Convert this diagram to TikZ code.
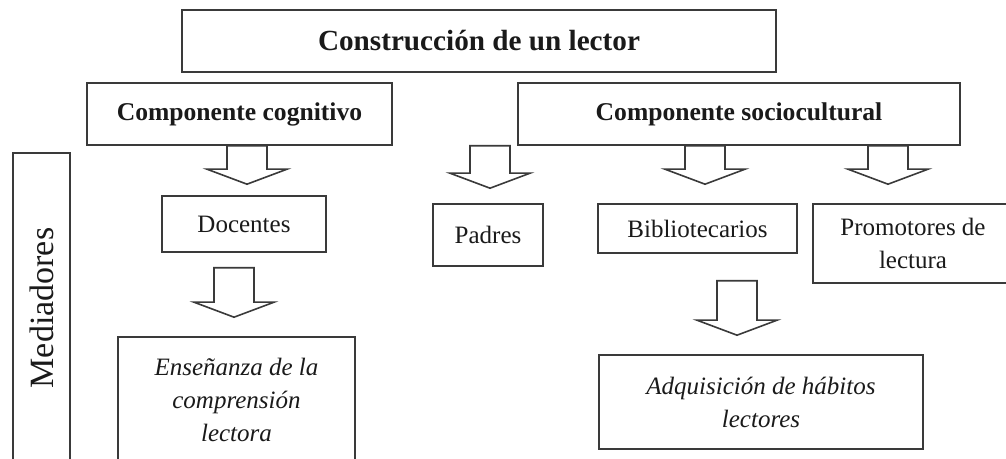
\documentclass[tikz,border=0pt]{standalone}
\usepackage{fontspec}
\setmainfont{Liberation Serif}
\usetikzlibrary{calc}

\definecolor{linea}{HTML}{3A3A3A}
\definecolor{texto}{HTML}{1A1A1A}

% flecha hueca: eje x, arranque, punta
\newcommand{\flecha}[3]{%
	\draw[flecha] let \p1 = (#1,0), \p2 = (#2), \p3 = (#3) in (\x1-10pt,\y2)--(\x1-10pt,\y3+7.5pt)--(\x1-20pt,\y3+7.5pt)--(\x1,\y3)--(\x1+20pt,\y3+7.5pt)--(\x1+10pt,\y3+7.5pt)--(\x1+10pt,\y2)--cycle;}

\begin{document}
\begin{tikzpicture}[x=0.5pt,y=-0.5pt,
	caja/.style={draw=linea, line width=0.8pt, text=texto, inner sep=2pt, align=center, font=\fontsize{12.5}{16.5}\selectfont},
	cajanegrita/.style={caja, font=\fontsize{12.8}{15}\selectfont\bfseries},
	flecha/.style={draw=linea, line width=0.8pt, fill=white, line join=miter}]
	\path[use as bounding box, fill=white] (0,0) rectangle (1006,459);
	
	\node[caja, font=\fontsize{14.6}{17}\selectfont\bfseries, minimum width=297pt, minimum height=31pt] (titulo) at (479,41) {Construcción de un lector};
	\node[cajanegrita, minimum width=152.5pt, minimum height=31pt] (cog) at (239.5,114) {Componente cognitivo};
	\node[cajanegrita, minimum width=221pt, minimum height=31pt] (soc) at (739,114) {Componente sociocultural};
	\node[caja, font=\fontsize{17}{20}\selectfont, rotate=90, minimum width=155pt, minimum height=28.5pt] (med) at (41.5,308) {Mediadores};
	
	\node[caja, minimum width=82pt, minimum height=28pt] (doc) at (244,224) {Docentes};
	\node[caja, minimum width=55pt, minimum height=31pt] (pad) at (488,235) {Padres};
	\node[caja, minimum width=99.5pt, minimum height=24.5pt] (bib) at (697.5,228.5) {Bibliotecarios};
	\node[caja, minimum width=100pt, minimum height=39.5pt] (prom) at (913,243.5) {Promotores de\\lectura};
	
	\node[caja, minimum width=118.5pt, minimum height=63pt] (ens) at (236.5,400) {\itshape Enseñanza de la\\\itshape comprensión\\\itshape lectora};
	\node[caja, minimum width=162pt, minimum height=47pt] (adq) at (761,402) {\itshape Adquisición de hábitos\\\itshape lectores};
	
	\flecha{247}{cog.south}{$(doc.north)+(0,-11)$}
	\flecha{490}{soc.south}{$(pad.north)+(0,-15)$}
	\flecha{705}{soc.south}{$(bib.north)+(0,-19)$}
	\flecha{888}{soc.south}{$(prom.north)+(0,-19)$}
	\flecha{234}{$(doc.south)+(0,15)$}{$(ens.north)+(0,-19)$}
	\flecha{737}{$(bib.south)+(0,27)$}{$(adq.north)+(0,-19)$}
\end{tikzpicture}
\end{document}
